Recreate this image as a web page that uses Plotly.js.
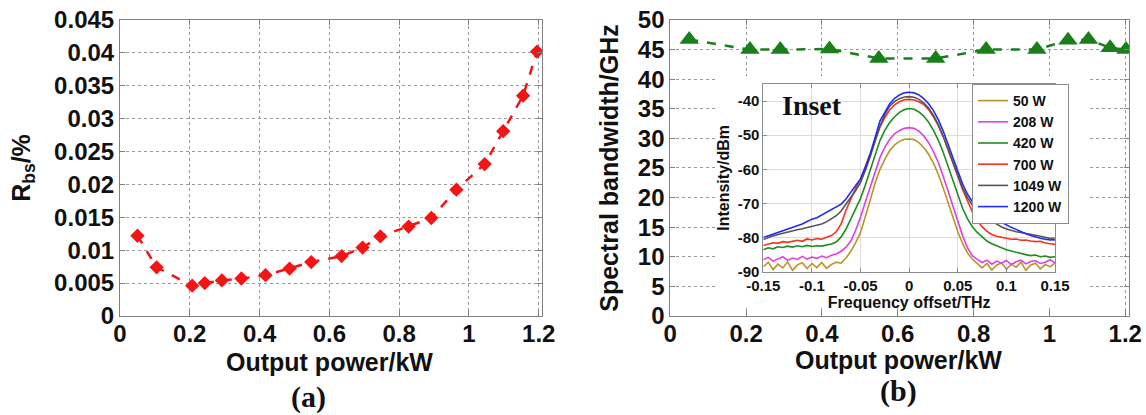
<!DOCTYPE html>
<html>
<head>
<meta charset="utf-8">
<script src="https://cdn.plot.ly/plotly-3.0.1.min.js"></script>
<style>
html,body{margin:0;padding:0;background:#fff;}
#chart{width:1146px;height:415px;}
</style>
</head>
<body>
<div id="chart"></div>
<script>
// ---------- (a) backscattered ratio ----------
const powerA = [0.05,0.105,0.207,0.243,0.292,0.348,0.417,0.486,0.548,0.635,0.695,0.746,0.827,0.892,0.964,1.045,1.098,1.155,1.195];
const rbs = [0.0122,0.0074,0.0046,0.0050,0.0054,0.0057,0.0062,0.0072,0.0082,0.0091,0.0104,0.0121,0.0136,0.0149,0.0192,0.0231,0.0281,0.0335,0.0402];

// ---------- (b) spectral bandwidth ----------
const powerB = [0.05,0.21,0.29,0.42,0.55,0.70,0.833,0.967,1.049,1.103,1.160,1.202];
const bandwidth = [46.7,45.0,45.0,45.1,43.5,43.5,45.0,45.0,46.6,46.7,45.3,45.0];

// ---------- inset spectra ----------
const freq = [-0.15,-0.145,-0.14,-0.135,-0.13,-0.125,-0.12,-0.115,-0.11,-0.105,-0.1,-0.095,-0.09,-0.085,-0.08,-0.075,-0.07,-0.065,-0.06,-0.055,-0.05,-0.045,-0.04,-0.035,-0.03,-0.025,-0.02,-0.015,-0.01,-0.005,0,0.005,0.01,0.015,0.02,0.025,0.03,0.035,0.04,0.045,0.05,0.055,0.06,0.065,0.07,0.075,0.08,0.085,0.09,0.095,0.1,0.105,0.11,0.115,0.12,0.125,0.13,0.135,0.14,0.145,0.15];
const spec50 = [-88.6,-87.2,-89.4,-87.8,-88.9,-87.1,-89.6,-88.0,-87.4,-89.1,-87.6,-88.8,-87.3,-89.0,-87.9,-87.2,-87.5,-86.0,-84.0,-81.5,-78.5,-74.0,-69.0,-64.0,-60.0,-57.0,-54.5,-52.8,-51.8,-51.2,-51.1,-51.3,-52.2,-53.6,-55.6,-58.2,-61.5,-65.5,-70.0,-74.3,-78.3,-81.8,-84.5,-86.3,-87.5,-88.9,-87.6,-89.5,-88.1,-87.4,-89.3,-87.8,-88.7,-87.2,-89.6,-88.0,-87.5,-89.2,-87.9,-88.6,-87.4];
const spec208 = [-86.5,-85.8,-86.9,-86.2,-85.6,-86.7,-86.0,-86.4,-85.5,-86.3,-85.7,-86.1,-85.4,-85.9,-85.2,-84.8,-84.0,-82.8,-81.0,-77.8,-74.0,-69.5,-65.0,-60.5,-56.5,-53.5,-51.2,-49.6,-48.6,-48.0,-47.8,-48.0,-48.8,-50.2,-52.2,-54.8,-58.0,-62.0,-66.5,-71.0,-75.5,-79.5,-83.0,-85.3,-86.4,-87.3,-86.6,-87.8,-86.9,-87.5,-86.7,-87.9,-87.1,-86.6,-87.7,-87.0,-86.8,-87.6,-87.2,-86.5,-87.4];
const spec420 = [-83.6,-83.0,-83.3,-82.7,-82.9,-82.5,-82.8,-82.4,-82.7,-82.3,-82.6,-82.4,-82.5,-82.2,-81.9,-81.3,-79.8,-77.5,-74.5,-71.5,-68.5,-64.5,-60.0,-55.5,-51.5,-48.5,-46.3,-44.6,-43.3,-42.5,-42.2,-42.4,-43.2,-44.4,-46.2,-48.6,-51.5,-55.0,-59.0,-63.5,-67.5,-71.5,-74.5,-76.8,-78.5,-79.8,-81.0,-81.8,-82.5,-83.0,-83.6,-84.0,-84.3,-84.8,-85.0,-85.3,-85.1,-85.6,-85.4,-85.8,-85.6];
const spec700 = [-82.3,-81.8,-81.5,-81.7,-81.2,-81.4,-81.0,-80.8,-81.1,-80.4,-80.7,-80.3,-80.5,-79.9,-79.4,-78.3,-76.0,-72.0,-68.5,-65.5,-62.8,-59.3,-55.3,-51.3,-47.6,-44.8,-42.6,-41.1,-40.2,-39.6,-39.5,-39.7,-40.2,-41.0,-42.5,-44.6,-47.2,-50.4,-54.1,-58.0,-62.0,-66.0,-69.5,-72.5,-75.0,-76.8,-78.2,-79.1,-79.6,-80.0,-80.2,-80.5,-80.4,-80.8,-80.7,-81.0,-81.2,-81.1,-81.6,-81.8,-82.0];
const spec1049 = [-80.6,-80.0,-79.5,-79.1,-78.7,-78.3,-78.0,-77.7,-77.4,-77.1,-76.8,-76.4,-76.0,-75.4,-74.6,-73.6,-72.2,-70.3,-68.2,-66.2,-63.8,-60.3,-56.2,-51.7,-47.4,-43.9,-41.5,-40.1,-39.3,-38.8,-38.7,-38.9,-39.5,-40.5,-42.0,-44.2,-47.0,-50.3,-54.0,-58.0,-62.0,-65.5,-68.3,-70.5,-72.0,-73.2,-74.2,-75.2,-76.1,-76.9,-77.5,-78.0,-78.3,-78.5,-78.7,-79.0,-79.3,-79.6,-79.9,-80.2,-80.6];
const spec1200 = [-80.0,-79.5,-79.0,-78.6,-78.2,-77.6,-77.1,-76.6,-76.0,-75.3,-74.6,-74.2,-73.4,-72.6,-71.6,-71.0,-70.2,-68.7,-66.5,-64.7,-62.8,-59.5,-55.5,-50.6,-45.8,-43.3,-40.8,-39.2,-38.2,-37.6,-37.4,-37.6,-38.2,-39.3,-40.8,-42.8,-45.5,-48.8,-52.5,-56.5,-60.5,-64.3,-67.3,-69.5,-71.0,-72.0,-72.8,-73.6,-74.6,-75.5,-76.3,-77.0,-77.6,-78.3,-78.9,-79.4,-79.9,-80.2,-80.5,-80.7,-80.6];
const insetNames = ['50 W','208 W','420 W','700 W','1049 W','1200 W'];

// tick labels
const powerTicks = [0,0.2,0.4,0.6,0.8,1,1.2];
const insetXTicks = [-0.15,-0.1,-0.05,0,0.05,0.1,0.15];
const insetXTickText = ['-0.15','-0.1','-0.05','0','0.05','0.1','0.15'];
const insetYTicks = [-90,-80,-70,-60,-50,-40];
const insetYTickText = ['-90','-80','-70','-60','-50','-40'];

const FONT = 'Liberation Sans, Arial, Helvetica, sans-serif';
const SERIF = 'Liberation Serif, Times New Roman, serif';
const insetColors = ['#b8952a','#e23ee2','#1e8c1e','#f5321e','#555555','#1f2cf5'];
const insetSpectra = [spec50,spec208,spec420,spec700,spec1049,spec1200];

const traces = [
  {type:'scatter', mode:'lines+markers', x:powerA, y:rbs, xaxis:'x', yaxis:'y', showlegend:false,
   line:{color:'#f51414', width:2.5, dash:'dash'},
   marker:{symbol:'diamond', size:11, color:'#f51414'}},
  {type:'scatter', mode:'lines+markers', x:powerB, y:bandwidth, xaxis:'x2', yaxis:'y2', showlegend:false,
   line:{color:'#1a7f1a', width:2.5, dash:'dash'},
   marker:{symbol:'triangle-up', size:17, color:'#1a7f1a'}},
  // empty subplot hosting the white background of the inset
  {type:'scatter', mode:'lines', x:[], y:[], xaxis:'x3', yaxis:'y3', showlegend:false, hoverinfo:'skip'}
];
insetSpectra.forEach((s,i)=>{
  traces.push({type:'scatter', mode:'lines', x:freq, y:s, xaxis:'x4', yaxis:'y4',
    name:insetNames[i], line:{color:insetColors[i], width:1.6}});
});

const mainAxis = {
  showline:true, mirror:'ticks', linecolor:'#808080', linewidth:1,
  ticks:'inside', ticklen:5, tickcolor:'#808080',
  showgrid:true, gridcolor:'#9a9a9a', griddash:'dot', gridwidth:1,
  zeroline:false,
  tickfont:{family:FONT, size:24, color:'#111', weight:'bold'}
};
const insetAxis = {
  showline:true, mirror:'ticks', linecolor:'#8c8c8c', linewidth:1,
  ticks:'inside', ticklen:4, tickcolor:'#8c8c8c',
  showgrid:true, gridcolor:'#dcdcdc', gridwidth:1, zeroline:false,
  tickfont:{family:FONT, size:15, color:'#111', weight:'bold'}
};
const titleFont = {family:FONT, size:25, color:'#111', weight:'bold'};

const layout = {
  width:1146, height:415,
  margin:{l:0,r:0,t:0,b:0},
  paper_bgcolor:'#ffffff', plot_bgcolor:'#ffffff',
  showlegend:true,
  xaxis: Object.assign({}, mainAxis, {domain:[0.1047,0.4732], range:[0,1.21], anchor:'y',
    tickvals:powerTicks, ticklabelstandoff:-4}),
  yaxis: Object.assign({}, mainAxis, {domain:[0.2386,0.9518], range:[0,0.045], anchor:'x', dtick:0.005, tick0:0,
    title:{text:'R<sub>bs</sub>/%', standoff:16, font:titleFont}}),
  xaxis2: Object.assign({}, mainAxis, {domain:[0.5849,0.9852], range:[0,1.21], anchor:'y2',
    tickvals:powerTicks, ticklabelstandoff:-4}),
  yaxis2: Object.assign({}, mainAxis, {domain:[0.2386,0.9518], range:[0,50], anchor:'x2', dtick:5, tick0:0,
    title:{text:'Spectral bandwidth/GHz', standoff:12, font:titleFont}}),
  xaxis3: {domain:[0.6239,0.9511], range:[0,1], anchor:'y3', visible:false, fixedrange:true},
  yaxis3: {domain:[0.2602,0.8169], range:[0,1], anchor:'x3', visible:false, fixedrange:true},
  xaxis4: Object.assign({}, insetAxis, {domain:[0.6661,0.9206], range:[-0.15,0.15], anchor:'y4',
    tickvals:insetXTicks, ticktext:insetXTickText,
    title:{text:'Frequency offset/THz', standoff:2, font:{family:FONT, size:16, color:'#111', weight:'bold'}}}),
  yaxis4: Object.assign({}, insetAxis, {domain:[0.3453,0.7976], range:[-90,-35], anchor:'x4',
    tickvals:insetYTicks, ticktext:insetYTickText,
    title:{text:'Intensity/dBm', standoff:4, font:{family:FONT, size:16, color:'#111', weight:'bold'}}}),
  shapes:[
    {type:'rect', xref:'x3', yref:'y3', x0:0, x1:1, y0:0, y1:1, layer:'below',
     fillcolor:'#ffffff', line:{width:0}}
  ],
  legend:{x:0.8482, y:0.7976, xanchor:'left', yanchor:'top', bgcolor:'#ffffff',
    bordercolor:'#8c8c8c', borderwidth:1, itemwidth:30, tracegroupgap:0,
    font:{family:FONT, size:14, color:'#111', weight:'bold'}},
  annotations:[
    {text:'Output power/kW', xref:'paper', yref:'paper', x:0.2871, y:0.1277, xanchor:'center', yanchor:'middle', showarrow:false,
     font:titleFont},
    {text:'Output power/kW', xref:'paper', yref:'paper', x:0.7836, y:0.1325, xanchor:'center', yanchor:'middle', showarrow:false,
     font:titleFont},
    {text:'Inset', xref:'paper', yref:'paper', x:0.7083, y:0.7453, xanchor:'center', yanchor:'middle', showarrow:false,
     font:{family:SERIF, size:28, color:'#111', weight:'bold'}},
    {text:'(a)', xref:'paper', yref:'paper', x:0.2688, y:0.0434, xanchor:'center', yanchor:'middle', showarrow:false,
     font:{family:SERIF, size:30, color:'#111', weight:'bold'}},
    {text:'(b)', xref:'paper', yref:'paper', x:0.7836, y:0.0578, xanchor:'center', yanchor:'middle', showarrow:false,
     font:{family:SERIF, size:30, color:'#111', weight:'bold'}}
  ]
};

Plotly.newPlot('chart', traces, layout, {displayModeBar:false, staticPlot:true});
</script>
</body>
</html>
